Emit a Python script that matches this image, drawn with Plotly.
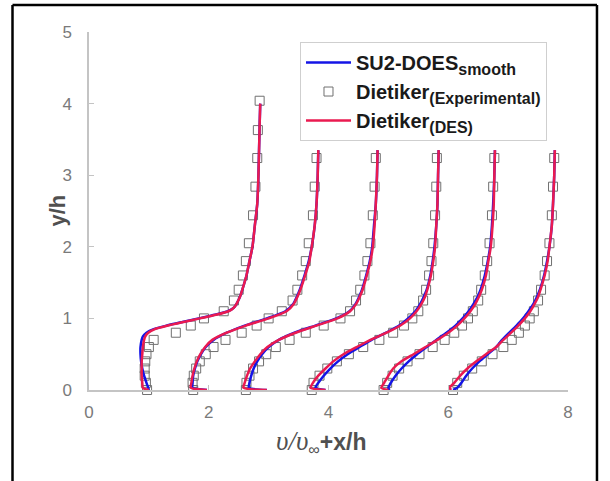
import plotly.graph_objects as go

# ---- wall-normal stations (y/h) ----
y_line1 = [0.0, 0.03, 0.1, 0.2, 0.3, 0.4, 0.5, 0.6, 0.7, 0.75, 0.8, 0.85, 0.9, 0.95,
           1.0, 1.05, 1.1, 1.15, 1.3, 1.4, 1.6, 1.8, 2.0, 2.3, 2.6, 3.0, 3.35, 3.7, 4.0]
y_line = [0.0, 0.03, 0.1, 0.2, 0.3, 0.4, 0.5, 0.6, 0.7, 0.8, 0.9, 1.0, 1.1, 1.2,
          1.3, 1.4, 1.6, 1.8, 2.0, 2.3, 2.6, 3.0, 3.35]
y_exp = [0.0, 0.1, 0.2, 0.3, 0.4, 0.5, 0.6, 0.7, 0.8, 0.9, 1.0, 1.1, 1.25, 1.4,
         1.6, 1.8, 2.05, 2.44, 2.84, 3.24]
y_exp1 = y_exp + [3.63, 4.04]

# ---- Dietiker DES profiles (u/u_inf + x/h) ----
des_x1 = [1.00, 0.90, 0.89, 0.88, 0.88, 0.88, 0.89, 0.90, 0.92, 0.94, 0.99, 1.10, 1.32, 1.58,
          1.85, 2.12, 2.33, 2.42, 2.52, 2.56, 2.63, 2.68, 2.73, 2.77, 2.81, 2.83, 2.84, 2.85, 2.86]
des_x2 = [1.97, 1.70, 1.71, 1.73, 1.76, 1.80, 1.86, 1.94, 2.06, 2.30, 2.62, 3.00, 3.30, 3.42,
          3.48, 3.53, 3.61, 3.68, 3.72, 3.77, 3.80, 3.82, 3.83]
des_x3 = [2.97, 2.58, 2.60, 2.64, 2.69, 2.77, 2.86, 2.98, 3.17, 3.45, 3.80, 4.15, 4.36, 4.46,
          4.52, 4.57, 4.64, 4.70, 4.74, 4.77, 4.79, 4.81, 4.82]
des_x4 = [3.95, 3.70, 3.74, 3.83, 3.95, 4.08, 4.25, 4.47, 4.70, 4.97, 5.20, 5.36, 5.47, 5.55,
          5.61, 5.65, 5.71, 5.75, 5.78, 5.80, 5.82, 5.83, 5.84]
des_x5 = [5.00, 4.88, 4.93, 5.00, 5.08, 5.22, 5.42, 5.62, 5.82, 6.00, 6.15, 6.27, 6.37, 6.45,
          6.51, 6.56, 6.63, 6.67, 6.71, 6.74, 6.76, 6.77, 6.78]
des_x6 = [6.05, 6.02, 6.10, 6.20, 6.32, 6.47, 6.63, 6.80, 6.92, 7.05, 7.17, 7.28, 7.37, 7.44,
          7.50, 7.54, 7.61, 7.66, 7.69, 7.73, 7.75, 7.77, 7.78]

# ---- SU2-DDES (smooth wall) profiles ----
su2_x1 = [1.00, 0.99, 0.96, 0.92, 0.89, 0.87, 0.86, 0.86, 0.88, 0.90, 0.96, 1.08, 1.30, 1.56,
          1.83, 2.10, 2.32, 2.42, 2.52, 2.56, 2.63, 2.68, 2.73, 2.77, 2.81, 2.83, 2.84, 2.85, 2.86]
su2_x2 = [1.97, 1.73, 1.73, 1.74, 1.77, 1.81, 1.87, 1.95, 2.08, 2.30, 2.60, 2.97, 3.28, 3.41,
          3.47, 3.52, 3.60, 3.67, 3.72, 3.77, 3.80, 3.82, 3.83]
su2_x3 = [2.97, 2.67, 2.68, 2.71, 2.75, 2.81, 2.89, 3.00, 3.17, 3.43, 3.78, 4.13, 4.35, 4.45,
          4.51, 4.56, 4.63, 4.69, 4.73, 4.76, 4.79, 4.81, 4.82]
su2_x4 = [3.95, 3.78, 3.83, 3.92, 4.03, 4.16, 4.32, 4.52, 4.72, 4.96, 5.18, 5.33, 5.45, 5.53,
          5.59, 5.64, 5.70, 5.74, 5.77, 5.80, 5.82, 5.83, 5.84]
su2_x5 = [5.02, 5.00, 5.04, 5.12, 5.22, 5.34, 5.48, 5.64, 5.80, 5.97, 6.12, 6.24, 6.34, 6.42,
          6.49, 6.54, 6.61, 6.66, 6.70, 6.73, 6.75, 6.77, 6.78]
su2_x6 = [6.08, 6.15, 6.22, 6.30, 6.40, 6.52, 6.66, 6.80, 6.90, 7.02, 7.14, 7.25, 7.34, 7.42,
          7.48, 7.53, 7.60, 7.65, 7.69, 7.73, 7.75, 7.77, 7.78]

# ---- Dietiker experimental profiles ----
exp_x1 = [0.97, 0.95, 0.93, 0.93, 0.94, 0.96, 1.00, 1.08, 1.45, 1.70, 1.92, 2.25, 2.42, 2.50,
          2.57, 2.62, 2.67, 2.74, 2.78, 2.81, 2.82, 2.85]
exp_x2 = [1.74, 1.73, 1.75, 1.79, 1.85, 1.95, 2.08, 2.28, 2.55, 2.80, 3.00, 3.22, 3.40, 3.48,
          3.56, 3.62, 3.67, 3.74, 3.77, 3.80]
exp_x3 = [2.62, 2.63, 2.68, 2.74, 2.84, 2.96, 3.12, 3.35, 3.62, 3.92, 4.20, 4.36, 4.46, 4.53,
          4.60, 4.65, 4.70, 4.74, 4.77, 4.79]
exp_x4 = [3.72, 3.75, 3.85, 3.98, 4.14, 4.34, 4.58, 4.85, 5.08, 5.26, 5.40, 5.50, 5.58, 5.63,
          5.68, 5.72, 5.75, 5.78, 5.80, 5.81]
exp_x5 = [4.92, 4.98, 5.07, 5.18, 5.32, 5.52, 5.74, 5.94, 6.10, 6.23, 6.33, 6.41, 6.50, 6.55,
          6.61, 6.65, 6.69, 6.73, 6.75, 6.77]
exp_x6 = [6.08, 6.15, 6.26, 6.40, 6.56, 6.74, 6.92, 7.06, 7.18, 7.28, 7.36, 7.43, 7.50, 7.55,
          7.61, 7.65, 7.69, 7.73, 7.75, 7.77]

x_ticks = [0, 2, 4, 6, 8]
y_ticks = [0, 1, 2, 3, 4, 5]


def join(xs_list, ys_list):
    """Concatenate several profiles into one trace, separated by gaps."""
    xs, ys = [], []
    for xv, yv in zip(xs_list, ys_list):
        xs += list(xv) + [None]
        ys += list(yv) + [None]
    return xs, ys


def label(main, sub):
    """Bold legend label with a slightly enlarged subscript."""
    return f'<b>{main}</b><sub><span style="font-size:16px"><b>{sub}</b></span></sub>'


ys_lines = [y_line1] + [y_line] * 5
ys_exp = [y_exp1] + [y_exp] * 5

su2_xs, su2_ys = join([su2_x1, su2_x2, su2_x3, su2_x4, su2_x5, su2_x6], ys_lines)
des_xs, des_ys = join([des_x1, des_x2, des_x3, des_x4, des_x5, des_x6], ys_lines)
exp_xs, exp_ys = join([exp_x1, exp_x2, exp_x3, exp_x4, exp_x5, exp_x6], ys_exp)

BLUE = "#1414e6"
RED = "#ea1a50"
FONT = "Liberation Sans, Arial, sans-serif"

fig = go.Figure()

fig.add_trace(go.Scatter(
    x=exp_xs, y=exp_ys, mode="markers", cliponaxis=False,
    name=label("Dietiker", "(Experimental)"), legendrank=2,
    marker=dict(symbol="square-open", size=9, color="#707070", line=dict(width=1)),
))
fig.add_trace(go.Scatter(
    x=su2_xs, y=su2_ys, mode="lines", connectgaps=False,
    name=label("SU2-DOES", "smooth"), legendrank=1,
    line=dict(color=BLUE, width=2.5, shape="spline", smoothing=0.6),
))
fig.add_trace(go.Scatter(
    x=des_xs, y=des_ys, mode="lines", connectgaps=False,
    name=label("Dietiker", "(DES)"), legendrank=3,
    line=dict(color=RED, width=2.5, shape="spline", smoothing=0.6),
))

axis_common = dict(
    showgrid=False, zeroline=False, showline=True, linecolor="#c4c4c4", linewidth=1.5,
    ticks="inside", ticklen=5, tickcolor="#c4c4c4", tickwidth=1.2,
    tickfont=dict(family=FONT, size=17, color="#7a7a7a"),
)
fig.update_xaxes(range=[0, 8], tickvals=x_ticks, ticklabelstandoff=6, **axis_common)
fig.update_yaxes(range=[0, 5], tickvals=y_ticks, ticklabelstandoff=12, **axis_common)

# outer frame of the figure cell
frame = dict(type="line", xref="paper", yref="paper", line=dict(color="black", width=2.5))
L, R, T, B = -0.1597, 1.0605, 1.0754, -0.26
fig.add_shape(x0=L, x1=R, y0=T, y1=T, **frame)
fig.add_shape(x0=L, x1=L, y0=B, y1=T, **frame)
fig.add_shape(x0=R, x1=R, y0=B, y1=T, **frame)

fig.add_annotation(
    xref="paper", yref="paper", x=-0.098, y=0.5, textangle=-90, showarrow=False,
    text="<b>y/h</b>", font=dict(family=FONT, size=22, color="#505050"),
)
fig.add_annotation(
    xref="paper", yref="paper", x=0.485, y=-0.145, showarrow=False, yanchor="middle",
    text=('<span style="font-family:Liberation Serif;font-size:27px"><i>υ/υ</i></span>'
          '<sub>∞</sub><b>+x/h</b>'),
    font=dict(family=FONT, size=23, color="#505050"),
)

fig.update_layout(
    width=610, height=481,
    margin=dict(l=89, r=42, t=32, b=91),
    paper_bgcolor="white", plot_bgcolor="white",
    showlegend=True,
    legend=dict(
        x=0.4405, y=0.972, xanchor="left", yanchor="top",
        bgcolor="white", bordercolor="#cfcfcf", borderwidth=1,
        font=dict(family=FONT, size=20, color="#1a1a1a"),
        itemwidth=45, tracegroupgap=0,
    ),
)

fig.write_html("out.html")
